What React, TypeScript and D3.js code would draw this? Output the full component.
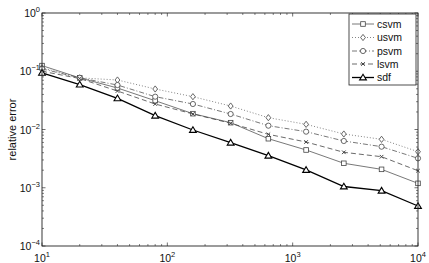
import React from "react";
import * as d3 from "d3";

const xs = [10, 20, 40, 80, 160, 320, 640, 1280, 2560, 5120, 10000];
const csvm = [0.125, 0.077, 0.0516, 0.0312, 0.0187, 0.0131, 0.00695, 0.00445, 0.00263, 0.00207, 0.00119];
const usvm = [0.115, 0.077, 0.0708, 0.0496, 0.0366, 0.0253, 0.01595, 0.01227, 0.00837, 0.00678, 0.00416];
const psvm = [0.11, 0.077, 0.058, 0.0366, 0.0274, 0.01845, 0.01163, 0.00918, 0.00635, 0.00507, 0.0032];
const lsvm = [0.1, 0.075, 0.0458, 0.0274, 0.0185, 0.0128, 0.00826, 0.0061, 0.00406, 0.00341, 0.00196];
const sdf = [0.094, 0.059, 0.0343, 0.01726, 0.0098, 0.00594, 0.00355, 0.00202, 0.00105, 0.00089, 0.000486];
const seriesNames = ["csvm", "usvm", "psvm", "lsvm", "sdf"];
const xTickExps = [1, 2, 3, 4];
const yTickExps = [0, -1, -2, -3, -4];
const yLabel = "relative error";

const W = 429, H = 263;
const M = { left: 42, right: 418, top: 13, bottom: 246 };
const FONT = "Liberation Sans, Arial, Helvetica, sans-serif";

type Style = { color: string; width: number; dash: string; marker: string };
const styles: Style[] = [
  { color: "#555", width: 0.8, dash: "", marker: "square" },
  { color: "#666", width: 0.8, dash: "1,2", marker: "diamond" },
  { color: "#555", width: 0.8, dash: "5,2,1,2", marker: "circle" },
  { color: "#444", width: 0.8, dash: "5,3", marker: "x" },
  { color: "#000", width: 1.3, dash: "", marker: "triangle" },
];

function Marker({ kind, x, y, color }: { kind: string; x: number; y: number; color: string }) {
  const s = 2.3;
  const common = { fill: "white", stroke: color, strokeWidth: 0.8 };
  if (kind === "square") return <rect x={x - s} y={y - s} width={2 * s} height={2 * s} {...common} />;
  if (kind === "diamond")
    return <path d={`M${x},${y - 3.1}L${x + 2.4},${y}L${x},${y + 3.1}L${x - 2.4},${y}Z`} {...common} />;
  if (kind === "circle") return <circle cx={x} cy={y} r={2.6} {...common} />;
  if (kind === "x")
    return (
      <path d={`M${x - 1.8},${y - 1.8}L${x + 1.8},${y + 1.8}M${x - 1.8},${y + 1.8}L${x + 1.8},${y - 1.8}`} stroke={color} strokeWidth={1} fill="none" />
    );
  return (
    <path d={`M${x},${y - 3.3}L${x + 3.4},${y + 2.4}L${x - 3.4},${y + 2.4}Z`} fill="#fff" stroke={color} strokeWidth={1.1} />
  );
}

export default function App() {
  const x = d3.scaleLog().domain([10, 10000]).range([M.left, M.right]);
  const y = d3.scaleLog().domain([1e-4, 1]).range([M.bottom, M.top]);
  const allSeries = [csvm, usvm, psvm, lsvm, sdf];
  const line = d3
    .line<[number, number]>()
    .x((d) => x(d[0]))
    .y((d) => y(d[1]));

  const xMinor: number[] = [];
  for (let e = 1; e < 4; e++) for (let k = 2; k <= 9; k++) xMinor.push(k * Math.pow(10, e));
  const yMinor: number[] = [];
  for (let e = -4; e < 0; e++) for (let k = 2; k <= 9; k++) yMinor.push(k * Math.pow(10, e));

  const tickColor = "#333";
  const legX = 349, legY = 14, legW = 67, legH = 71;
  const rowY = [24, 37.5, 51, 64, 77.5];

  return (
    <svg width={W} height={H} style={{ position: "absolute", left: 0, top: 0, fontFamily: FONT }}>
      <rect x={0} y={0} width={W} height={H} fill="white" />
      {xTickExps.map((e) => {
        const px = x(Math.pow(10, e));
        return (
          <g key={"xt" + e}>
            <line x1={px} x2={px} y1={M.bottom} y2={M.bottom - 3.5} stroke={tickColor} strokeWidth={0.7} />
            <line x1={px} x2={px} y1={M.top} y2={M.top + 3.5} stroke={tickColor} strokeWidth={0.7} />
          </g>
        );
      })}
      {xMinor.map((v, i) => {
        const px = x(v);
        return (
          <g key={"xm" + i}>
            <line x1={px} x2={px} y1={M.bottom} y2={M.bottom - 2} stroke={tickColor} strokeWidth={0.6} />
            <line x1={px} x2={px} y1={M.top} y2={M.top + 2} stroke={tickColor} strokeWidth={0.6} />
          </g>
        );
      })}
      {yTickExps.map((e) => {
        const py = y(Math.pow(10, e));
        return (
          <g key={"yt" + e}>
            <line x1={M.left} x2={M.left + 3.5} y1={py} y2={py} stroke={tickColor} strokeWidth={0.7} />
            <line x1={M.right} x2={M.right - 3.5} y1={py} y2={py} stroke={tickColor} strokeWidth={0.7} />
          </g>
        );
      })}
      {yMinor.map((v, i) => {
        const py = y(v);
        return (
          <g key={"ym" + i}>
            <line x1={M.left} x2={M.left + 2} y1={py} y2={py} stroke={tickColor} strokeWidth={0.6} />
            <line x1={M.right} x2={M.right - 2} y1={py} y2={py} stroke={tickColor} strokeWidth={0.6} />
          </g>
        );
      })}
      {allSeries.map((vals, si) => {
        const st = styles[si];
        const pts = xs.map((xv, i) => [xv, vals[i]] as [number, number]);
        return (
          <g key={"s" + si}>
            <path d={line(pts) || ""} fill="none" stroke={st.color} strokeWidth={st.width} strokeDasharray={st.dash} />
            {pts.map((p, i) => (
              <Marker key={i} kind={st.marker} x={x(p[0])} y={y(p[1])} color={si === 4 ? "#000" : "#444"} />
            ))}
          </g>
        );
      })}
      <rect x={M.left} y={M.top} width={M.right - M.left} height={M.bottom - M.top} fill="none" stroke="#222" strokeWidth={0.9} />
      {xTickExps.map((e) => (
        <text key={"xl" + e} x={x(Math.pow(10, e))} y={262} textAnchor="middle" fontSize={10.5} fill="#111">
          10<tspan dy={-5} fontSize={7.5}>{e}</tspan>
        </text>
      ))}
      {yTickExps.map((e) => (
        <text key={"yl" + e} x={M.left - 2} y={y(Math.pow(10, e)) + 4} textAnchor="end" fontSize={10.5} fill="#111">
          10<tspan dy={-5} fontSize={7.5}>{e === 0 ? "0" : "\u2212" + Math.abs(e)}</tspan>
        </text>
      ))}
      <text transform={`translate(16,${(M.top + M.bottom) / 2}) rotate(-90)`} textAnchor="middle" fontSize={11} fill="#111">
        {yLabel}
      </text>
      <rect x={legX} y={legY} width={legW} height={legH} fill="white" stroke="#222" strokeWidth={0.8} />
      {seriesNames.map((n, i) => {
        const st = styles[i];
        const ry = rowY[i];
        return (
          <g key={"lg" + n}>
            <line x1={352} x2={374} y1={ry} y2={ry} stroke={st.color} strokeWidth={st.width} strokeDasharray={st.dash} />
            <Marker kind={st.marker} x={363} y={ry} color={i === 4 ? "#000" : "#444"} />
            <text x={377} y={ry + 3.8} fontSize={10.5} fill="#111">
              {n}
            </text>
          </g>
        );
      })}
    </svg>
  );
}
